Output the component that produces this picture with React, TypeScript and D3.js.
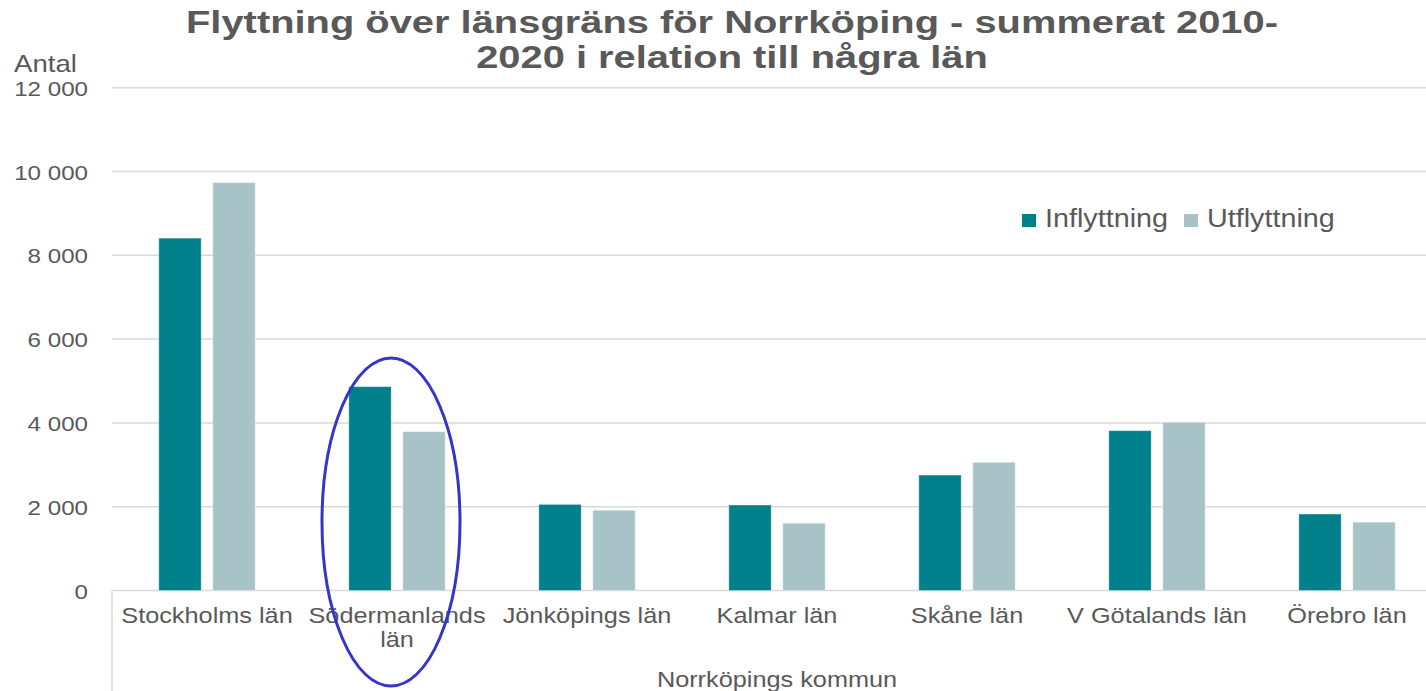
import React from "react";
import * as d3 from "d3";

const counties = [
  "Stockholms län",
  "Södermanlands län",
  "Jönköpings län",
  "Kalmar län",
  "Skåne län",
  "V Götalands län",
  "Örebro län",
];
const seriesNames = ["Inflyttning", "Utflyttning"];
const inflyttning = [8410, 4865, 2055, 2040, 2755, 3815, 1825];
const utflyttning = [9735, 3790, 1915, 1605, 3060, 4015, 1630];
const yTicks = [0, 2000, 4000, 6000, 8000, 10000, 12000];
const titleLines = [
  "Flyttning över länsgräns för Norrköping - summerat 2010-",
  "2020 i relation till några län",
];
const yLabel = "Antal";
const groupLabel = "Norrköpings kommun";

const W = 1426;
const H = 691;
const colors = ["#00808b", "#a7c3c8"];
const textColor = "#595959";
const gridColor = "#d9d9d9";
const font = "'Liberation Sans', Arial, sans-serif";
const SX = 1.15; // the source image text is stretched horizontally

const se = d3.formatLocale({ decimal: ",", thousands: " ", grouping: [3], currency: ["", " kr"] });
const fmt = se.format(",d");

function SText(props: { x: number; y: number; size: number; anchor?: string; weight?: string; sx?: number; children: any }) {
  const { x, y, size, anchor = "start", weight = "normal", sx = SX, children } = props;
  return (
    <g transform={`translate(${x},${y}) scale(${sx},1)`}>
      <text x={0} y={0} fontSize={size} fontWeight={weight} textAnchor={anchor} fill={textColor} fontFamily={font}>
        {children}
      </text>
    </g>
  );
}

export default function App() {
  const left = 112;
  const x0 = d3.scaleBand<string>().domain(counties).range([left, left + 190 * counties.length]).padding(0);
  const x1 = d3.scaleBand<string>().domain(seriesNames).range([0, x0.bandwidth()]).paddingInner(0.215).paddingOuter(0.867);
  const y = d3.scaleLinear().domain([0, 12000]).range([590.5, 87.7]);
  const values = [inflyttning, utflyttning];

  const sod = counties[1];
  const ellCx = (x0(sod) as number) + x0.bandwidth() / 2 - 6;

  return (
    <svg width={W} height={H} style={{ position: "absolute", left: 0, top: 0, background: "#fff" }}>
      {/* title */}
      {titleLines.map((t, i) => (
        <SText key={t} x={732} y={33 + i * 35} size={32} anchor="middle" weight="bold" sx={1.246}>
          {t}
        </SText>
      ))}

      {/* gridlines + y ticks */}
      {yTicks.map((t) => (
        <g key={t}>
          <line x1={left} x2={W} y1={y(t)} y2={y(t)} stroke={gridColor} strokeWidth={1.5} />
          <SText x={88} y={y(t) + 8} size={21} anchor="end">
            {fmt(t)}
          </SText>
        </g>
      ))}
      <SText x={14} y={72} size={24}>
        {yLabel}
      </SText>

      {/* bars */}
      {counties.map((c, i) => (
        <g key={c}>
          {seriesNames.map((s, j) => (
            <rect
              key={s}
              x={(x0(c) as number) + (x1(s) as number)}
              y={y(values[j][i])}
              width={x1.bandwidth()}
              height={y(0) - y(values[j][i])}
              fill={colors[j]}
              stroke="#ffffff"
              strokeOpacity={0.35}
              strokeWidth={1}
            />
          ))}
        </g>
      ))}

      {/* category axis */}
      <line x1={left} x2={left} y1={y(0)} y2={H} stroke={gridColor} strokeWidth={1.5} />
      {counties.map((c) => {
        const cx = (x0(c) as number) + x0.bandwidth() / 2;
        const words = c.split(" ");
        const lines = c.length > 16 ? [words.slice(0, -1).join(" "), words[words.length - 1]] : [c];
        return lines.map((l, k) => (
          <SText key={c + k} x={cx} y={623 + k * 24} size={22} anchor="middle">
            {l}
          </SText>
        ));
      })}
      <SText x={(x0.range()[0] + x0.range()[1]) / 2} y={687} size={22} anchor="middle">
        {groupLabel}
      </SText>

      {/* legend */}
      {seriesNames.map((s, j) => {
        const lx = 1022 + j * 162;
        return (
          <g key={s}>
            <rect x={lx} y={214} width={14} height={13} fill={colors[j]} />
            <SText x={lx + 23} y={227} size={25}>
              {s}
            </SText>
          </g>
        );
      })}

      {/* highlight ellipse */}
      <ellipse cx={ellCx} cy={522} rx={69} ry={164} fill="none" stroke="#3535c8" strokeWidth={3} />
    </svg>
  );
}
